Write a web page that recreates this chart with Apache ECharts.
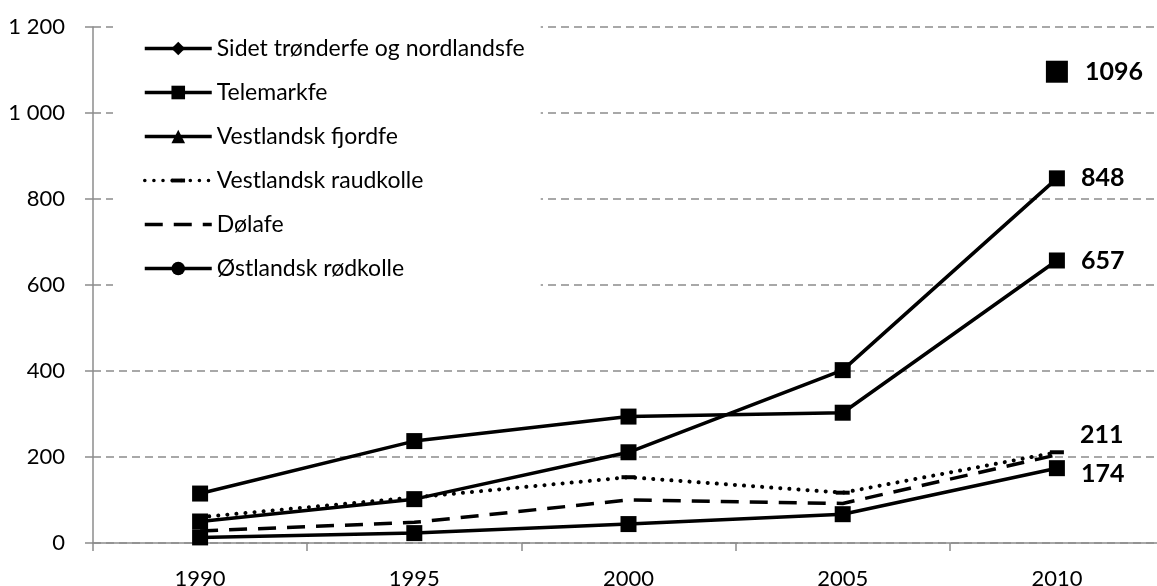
<!DOCTYPE html>
<html><head><meta charset="utf-8">
<script src="https://cdn.jsdelivr.net/npm/echarts@6/dist/echarts.min.js"></script>
<style>html,body{margin:0;padding:0;background:#fff}#c{width:1157px;height:586px}</style>
</head><body><div id="c"></div>
<script>
// ---- data ----
const years = ['1990', '1995', '2000', '2005', '2010'];
const yTicks = [0, 200, 400, 600, 800, 1000, 1200];
const seriesNames = ['Sidet trønderfe og nordlandsfe', 'Telemarkfe', 'Vestlandsk fjordfe', 'Vestlandsk raudkolle', 'Dølafe', 'Østlandsk rødkolle'];
const sidetTronderfe = [null, null, null, null, 1096];
const telemarkfe = [115, 237, 294, 303, 657];
const vestlandskFjordfe = [50, 102, 211, 402, 848];
const vestlandskRaudkolle = [60, 106, 153, 117, 211];
const dolafe = [28, 48, 100, 92, 205];
const ostlandskRodkolle = [13, 23, 44, 67, 174];

// ---- chart ----
const FONT = 'Lato';
const dashSymbol = 'path://M0,0M14,14M0,5H14V9H0Z';
const chart = echarts.init(document.getElementById('c'), null, { renderer: 'canvas' });

function buildData(values, o) {
  return values.map(function (v, i) {
    if (v === null) return '-';
    const item = { value: v };
    if (o.pointSymbol) { item.symbol = o.pointSymbol; item.symbolSize = o.pointSize; }
    if (o.label && i === values.length - 1) item.label = Object.assign({ show: true }, o.label);
    return item;
  });
}

function makeSeries(name, values, o) {
  return {
    name: name,
    type: 'line',
    data: buildData(values, o),
    symbol: o.symbol,
    symbolSize: o.symbolSize || 16,
    showAllSymbol: true,
    connectNulls: false,
    lineStyle: { color: '#000', width: o.width || 3.5, type: o.lineType || 'solid', cap: o.cap || 'butt' },
    itemStyle: { color: '#000' },
    label: { show: false, position: 'right', distance: 16, fontFamily: FONT, fontSize: 25, fontWeight: 'bold', color: '#000' },
    emphasis: { disabled: true },
    animation: false
  };
}

const series = [
  makeSeries(seriesNames[0], sidetTronderfe, { symbol: 'diamond', pointSymbol: 'rect', pointSize: 22, label: { distance: 17 } }),
  makeSeries(seriesNames[1], telemarkfe, { symbol: 'rect', pointSymbol: 'rect', pointSize: 16, label: {} }),
  makeSeries(seriesNames[2], vestlandskFjordfe, { symbol: 'triangle', pointSymbol: 'rect', pointSize: 16, label: {} }),
  makeSeries(seriesNames[3], vestlandskRaudkolle, { symbol: dashSymbol, symbolSize: 14, width: 4, lineType: [0.1, 9], cap: 'round', label: { offset: [0, -17] } }),
  makeSeries(seriesNames[4], dolafe, { symbol: 'none', lineType: [18, 11] }),
  makeSeries(seriesNames[5], ostlandskRodkolle, { symbol: 'circle', pointSymbol: 'rect', pointSize: 16, label: { offset: [0, 6] } })
];

const legendData = seriesNames.map(function (n, i) {
  if (i === 4) return { name: n, itemStyle: { color: 'rgba(0,0,0,0)', borderWidth: 0 } };
  return { name: n };
});

chart.setOption({
  backgroundColor: '#fff',
  animation: false,
  grid: { left: 93, right: -7, top: 27, bottom: 43, outerBoundsMode: 'none' },
  legend: {
    orient: 'vertical', left: 113, top: 9,
    padding: [28, 16, 20, 30],
    backgroundColor: '#fff',
    itemWidth: 67, itemHeight: 17, itemGap: 21,
    selectedMode: false,
    lineStyle: { width: 3.5 },
    textStyle: { fontFamily: FONT, fontSize: 23, color: '#000', lineHeight: 20 },
    data: legendData
  },
  xAxis: {
    type: 'category', data: years, boundaryGap: true,
    axisLine: { lineStyle: { color: '#8c8c8c', width: 1.5 } },
    axisTick: { show: true, length: 8, lineStyle: { color: '#8c8c8c', width: 1.5 } },
    axisLabel: { fontFamily: FONT, fontSize: 22, color: '#000', margin: 25 },
    splitLine: { show: false }
  },
  yAxis: {
    type: 'value', min: yTicks[0], max: yTicks[yTicks.length - 1], interval: yTicks[1] - yTicks[0],
    axisLine: { show: true, lineStyle: { color: '#8c8c8c', width: 1.5 } },
    axisTick: { show: true, length: 8, lineStyle: { color: '#8c8c8c', width: 1.5 } },
    axisLabel: {
      fontFamily: FONT, fontSize: 22, color: '#000', margin: 28,
      formatter: function (v) { return String(v).replace(/\B(?=(\d{3})+(?!\d))/g, ' '); }
    },
    splitLine: { show: true, lineStyle: { type: [8, 5], color: '#8c8c8c', width: 1.5 } }
  },
  series: series
});
</script></body></html>
